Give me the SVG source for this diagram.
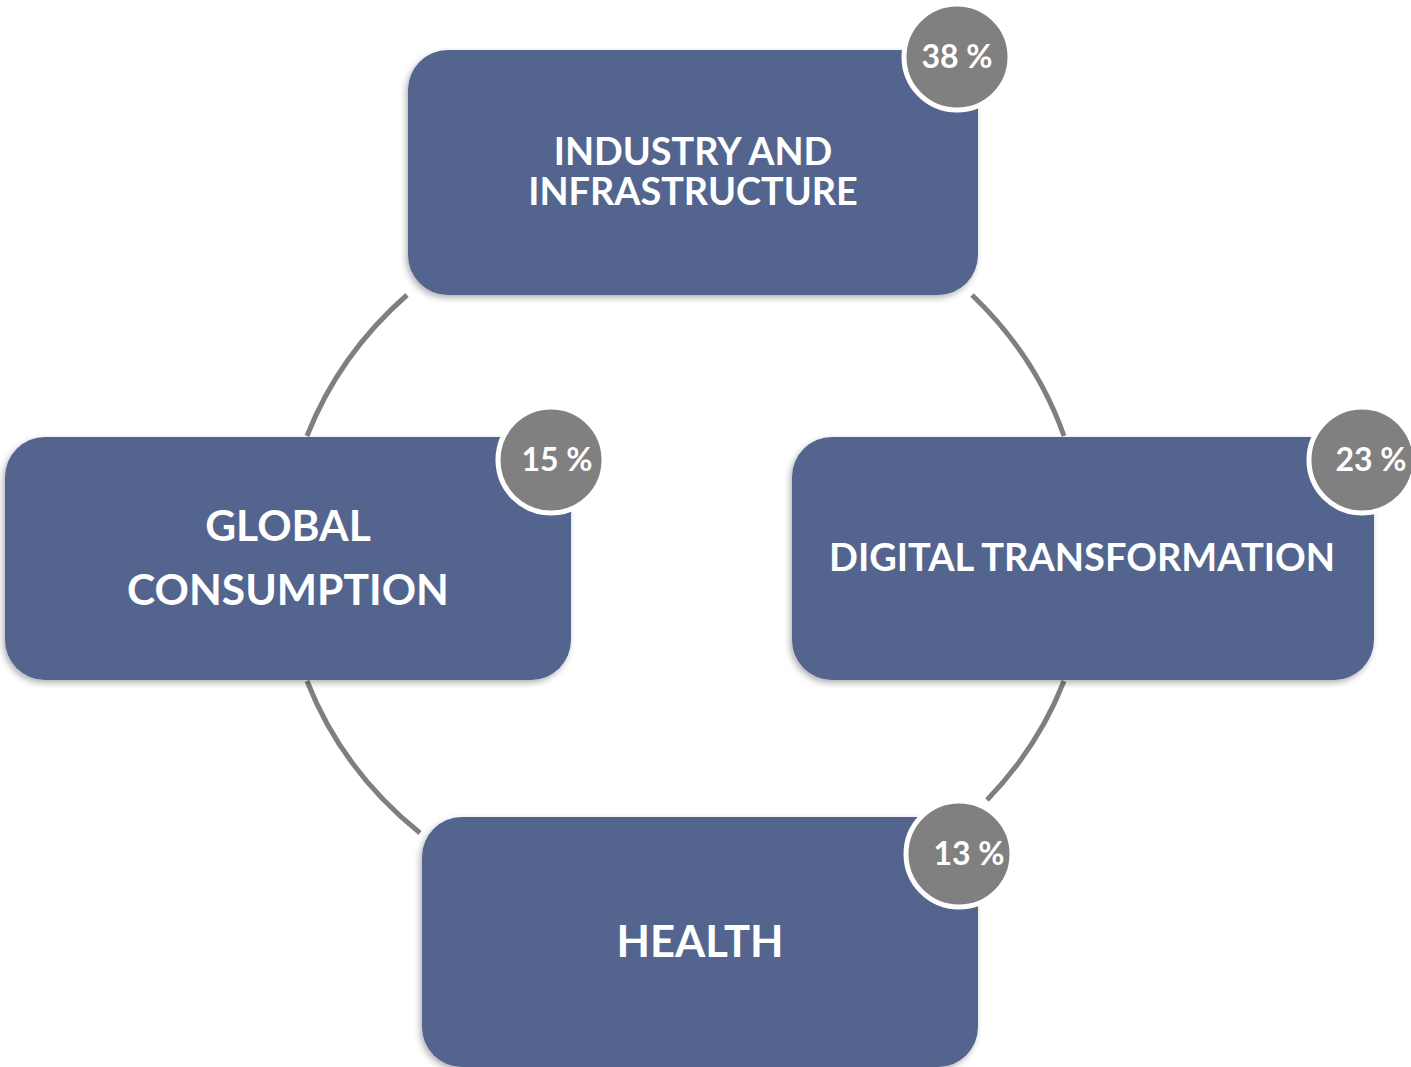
<svg xmlns="http://www.w3.org/2000/svg" width="1411" height="1067" viewBox="0 0 1411 1067">
<defs>
<filter id="sh" x="-10%" y="-10%" width="120%" height="125%">
<feDropShadow dx="-2" dy="3" stdDeviation="3" flood-color="#000" flood-opacity="0.3"/>
</filter>
<style>
.box{fill:#52658e;filter:url(#sh)}
.badge{fill:#808080;stroke:#ffffff;stroke-width:5}
.lbl{font-family:Lato,"Liberation Sans",sans-serif;font-weight:bold;fill:#ffffff;text-anchor:middle}
.pct{font-family:Lato,"Liberation Sans",sans-serif;font-weight:bold;fill:#ffffff;text-anchor:middle;font-size:32px}
.arc{fill:none;stroke:#7f7f7f;stroke-width:5}
</style>
</defs>
<rect width="1411" height="1067" fill="#ffffff"/>
<g id="connectors">
<path class="arc" d="M407,295 A404,367 0 0 0 307,436"/>
<path class="arc" d="M972,295 A404,367 0 0 1 1064,436"/>
<path class="arc" d="M307,681 A404,367 0 0 0 420,833"/>
<path class="arc" d="M1064,681 A404,367 0 0 1 987,800"/>
</g>
<g id="industry">
<rect class="box" x="408" y="50" width="570" height="245" rx="40"/>
<text class="lbl" x="693" y="165" font-size="37.8">INDUSTRY AND</text>
<text class="lbl" x="693" y="205" font-size="37.8">INFRASTRUCTURE</text>
<circle class="badge" cx="957" cy="57" r="53"/>
<text class="pct" x="957" y="68">38 %</text>
</g>
<g id="global">
<rect class="box" x="5" y="437" width="566" height="243" rx="40"/>
<text class="lbl" x="288" y="541" font-size="42.6">GLOBAL</text>
<text class="lbl" x="288" y="605" font-size="42.6">CONSUMPTION</text>
<circle class="badge" cx="551" cy="460" r="53"/>
<text class="pct" x="557" y="471">15 %</text>
</g>
<g id="digital">
<rect class="box" x="792" y="437" width="582" height="243" rx="40"/>
<text class="lbl" x="1082" y="571" font-size="38">DIGITAL TRANSFORMATION</text>
<circle class="badge" cx="1362" cy="460" r="53"/>
<text class="pct" x="1371" y="471">23 %</text>
</g>
<g id="health">
<rect class="box" x="422" y="817" width="556" height="250" rx="40"/>
<text class="lbl" x="700" y="957" font-size="43.5">HEALTH</text>
<circle class="badge" cx="959" cy="854" r="53"/>
<text class="pct" x="969" y="865">13 %</text>
</g>
</svg>
